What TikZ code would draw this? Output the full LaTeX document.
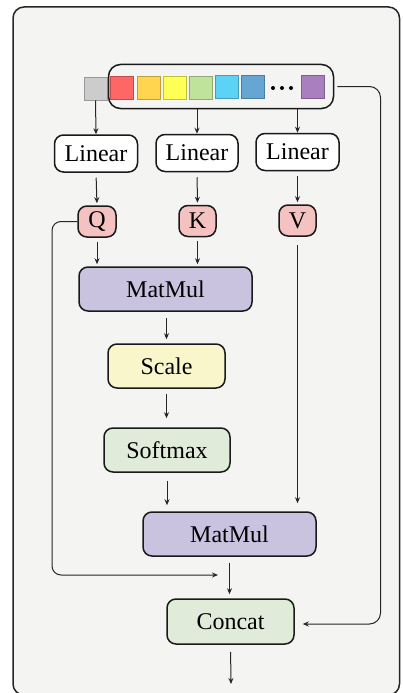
\documentclass[tikz,border=0pt]{standalone}
\usepackage{fontspec}
\setmainfont{Liberation Serif}
\usetikzlibrary{arrows.meta}

\definecolor{panelbg}{HTML}{F4F4F2}
\definecolor{qkvfill}{HTML}{F4C2C0}
\definecolor{mmfill}{HTML}{C9C3E0}
\definecolor{scalefill}{HTML}{FAF6CC}
\definecolor{softfill}{HTML}{E0ECD9}
\definecolor{tgray}{HTML}{CCCCCC}
\definecolor{tred}{HTML}{FF6666}
\definecolor{torange}{HTML}{FFD54F}
\definecolor{tyellow}{HTML}{FFFF55}
\definecolor{tgreen}{HTML}{C0E39C}
\definecolor{tcyan}{HTML}{5CD2F5}
\definecolor{tblue}{HTML}{66A6D2}
\definecolor{tpurple}{HTML}{A97FC0}

\begin{document}
\begin{tikzpicture}[x=1pt,y=-1pt,
  box/.style={draw=black!90, line width=1.5pt, rounded corners=9pt, inner sep=0pt,
              font=\fontsize{24}{28}\selectfont},
  linbox/.style={box, fill=white, minimum width=83pt, minimum height=37pt},
  qkv/.style={box, fill=qkvfill, minimum width=37pt, minimum height=31pt},
  tok/.style={draw=#1!75!black, fill=#1, line width=0.6pt, minimum size=23pt, inner sep=0pt},
  conn/.style={draw=black!85, line width=1pt, -{Stealth[length=6pt,width=5pt]}}
]
\useasboundingbox (0,0) rectangle (403,693);
\fill[white] (0,0) rectangle (403,693);

% outer panel
\draw[fill=panelbg, line width=1.5pt, draw=black!85, rounded corners=11pt] (13,7) rectangle (399.5,695);

% token sequence
\node[tok=tgray] (t0) at (95.5,88.5) {};
\node[tok=tred] (t1) at (122,88) {};
\node[tok=torange] (t2) at (148.5,88) {};
\node[tok=tyellow] (t3) at (174.5,88) {};
\node[tok=tgreen] (t4) at (200.5,87.5) {};
\node[tok=tcyan] (t5) at (226.5,87) {};
\node[tok=tblue] (t6) at (252.5,87) {};
\node[tok=tpurple] (t7) at (312.5,86.5) {};
\foreach \x [count=\i] in {273,282,291}
  \fill (\x,88) circle (2pt) coordinate (dot\i);
\node[draw=black!90, line width=1.5pt, rounded corners=12pt, minimum width=225pt,
      minimum height=44pt, inner sep=0pt] (tokens) at (221,86.5) {};

% linear projections
\node[linbox] (lin1) at (96,153.5) {Linear};
\node[linbox, minimum width=82pt] (lin2) at (197,153) {Linear};
\node[linbox] (lin3) at (297.5,152) {Linear};

\node[qkv, minimum width=38pt] (q) at (97,221.5) {Q};
\node[qkv] (k) at (197.5,221) {K};
\node[qkv] (v) at (297.5,220.5) {V};

% attention blocks
\node[box, fill=mmfill, minimum width=173pt, minimum height=44pt] (mm1) at (165.5,289) {MatMul};
\node[box, fill=scalefill, minimum width=117pt, minimum height=44pt] (scale) at (166.5,366) {Scale};
\node[box, fill=softfill, minimum width=126pt, minimum height=44pt] (soft) at (167,450) {Softmax};
\node[box, fill=mmfill, minimum width=173pt, minimum height=44pt] (mm2) at (229.5,534) {MatMul};
\node[box, fill=softfill, minimum width=127pt, minimum height=45pt] (concat) at (230.5,621.5) {Concat};

\coordinate (out) at (231,684);
\coordinate (leftc) at (52,575);
\coordinate (joinL) at (218,575);
\coordinate (rightc) at (380.5,624);

% token inputs to the projections
\draw[conn] (t0.south) -- (lin1.north);
\draw[conn] (tokens.south -| lin2.north) -- (lin2.north);
\draw[conn] (tokens.south -| lin3.north) -- (lin3.north);

\draw[conn, shorten <=5pt, shorten >=2pt] (lin1.south) -- (q.north);
\draw[conn, shorten <=5pt, shorten >=2pt] (lin2.south) -- (k.north);
\draw[conn, shorten <=5pt, shorten >=2pt] (lin3.south) -- (v.north);

\draw[conn, shorten <=4pt, shorten >=2pt] (q.south) -- (q.south |- mm1.north);
\draw[conn, shorten <=4pt, shorten >=2pt] (k.south) -- (k.south |- mm1.north);

\draw[conn, shorten <=6pt, shorten >=4pt] (mm1.south -| scale.north) -- (scale.north);
\draw[conn, shorten <=5pt, shorten >=9pt] (scale.south) -- (scale.south |- soft.north);
\draw[conn, shorten <=8pt, shorten >=6pt] (soft.south) -- (soft.south |- mm2.north);
\draw[conn, shorten <=8pt, shorten >=8pt] (v.south) -- (v.south |- mm2.north);

\draw[conn, shorten <=6pt, shorten >=4pt] (mm2.south) -- (mm2.south |- concat.north);
\draw[conn, shorten <=7pt] (concat.south) -- (out);

% side paths from Q and from the token sequence
\draw[conn, rounded corners=9pt] (q.west) -| (leftc) -- (joinL);
\draw[conn, rounded corners=11pt, shorten <=3pt, shorten >=8pt] (tokens.east) -| (rightc) -- (rightc -| concat.east);
\end{tikzpicture}
\end{document}
